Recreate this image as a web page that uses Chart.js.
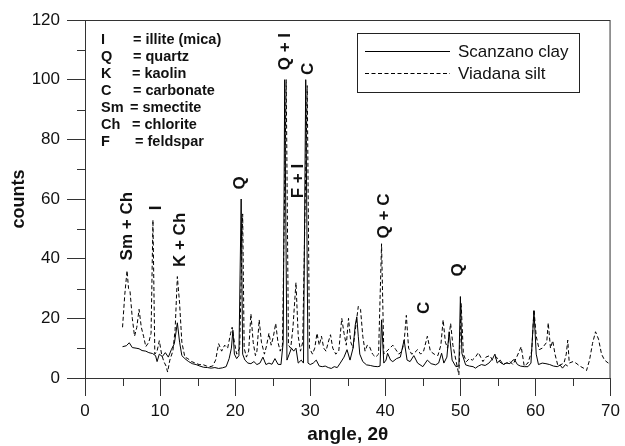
<!DOCTYPE html>
<html>
<head>
<meta charset="utf-8">
<script src="https://cdn.jsdelivr.net/npm/chart.js@4/dist/chart.umd.min.js"></script>
<style>
  html, body { margin: 0; padding: 0; background: #fff; }
  canvas { display: block; }
</style>
</head>
<body>
<canvas id="xrd" width="625" height="446"></canvas>
<script>
"use strict";

// Scanzano clay, solid line
var scanzanoAngle = [5.0, 5.5, 5.9, 6.3, 6.8, 7.2, 7.6, 8.1, 8.5, 9.0, 9.4, 9.6, 9.9, 10.3, 10.7, 11.1, 11.5, 11.9, 12.3, 12.6,
  12.9, 13.3, 13.8, 14.3, 14.8, 15.3, 15.8, 16.3, 16.8, 17.3, 17.8, 18.3, 18.8, 19.2, 19.5, 19.7, 19.9, 20.2, 20.5, 20.8,
  21.0, 21.3, 21.7, 22.1, 22.5, 22.9, 23.3, 23.7, 24.1, 24.5, 24.9, 25.3, 25.7, 26.1, 26.4, 26.6, 26.9, 27.2, 27.5, 27.8,
  28.1, 28.4, 28.8, 29.1, 29.4, 29.7, 30.0, 30.4, 30.8, 31.2, 31.6, 32.0, 32.4, 32.8, 33.2, 33.6, 34.0, 34.5, 34.9, 35.3,
  35.7, 36.0, 36.2, 36.4, 36.6, 37.0, 37.5, 38.0, 38.5, 39.0, 39.3, 39.5, 39.8, 40.1, 40.3, 40.7, 41.0, 41.5, 42.0, 42.5,
  42.9, 43.3, 43.8, 44.3, 45.0, 45.6, 46.1, 46.7, 47.1, 47.5, 47.8, 48.2, 48.5, 48.9, 49.4, 49.8, 50.0, 50.2, 50.7, 51.2,
  51.7, 52.0, 52.4, 52.8, 53.3, 53.8, 54.3, 54.6, 54.9, 55.3, 55.7, 56.1, 56.6, 57.0, 57.2, 57.6, 58.0, 58.5, 59.0, 59.4,
  59.8, 60.1, 60.4, 60.9, 61.4, 61.9, 62.4, 62.9, 63.3, 63.6, 64.0, 64.3];
var scanzanoCounts = [10.5, 10.8, 11.8, 10.2, 10.0, 9.8, 9.2, 9.0, 8.5, 8.2, 7.5, 5.5, 8.0, 7.2, 8.5, 7.0, 9.5, 11.5, 18.5, 12.0,
  7.5, 6.5, 5.5, 4.8, 4.5, 4.0, 3.6, 3.5, 3.3, 3.5, 3.2, 3.4, 3.8, 6.5, 10, 16, 8, 6.5, 7.5, 60,
  8, 6, 5, 4.8, 5.5, 4.5, 5, 7, 4.5, 5, 4.6, 6.5, 4.6, 4.5, 12, 100, 6, 8, 10, 9,
  10, 5, 6, 5, 100, 5, 4.5, 5, 6, 4, 3.8, 4, 3.5, 3.2, 3.8, 3.5, 5, 7, 9.5, 6,
  10, 17.8, 20.5, 14, 8, 5.5, 4.4, 4.2, 3.9, 3.8, 4, 19.5, 5, 6, 8.3, 6, 5.5, 6.5, 7, 12.7,
  6, 5.5, 7.5, 5, 3.8, 6, 4.8, 4.4, 5, 8.3, 5, 7, 15.5, 6, 3.8, 4, 27.3, 8.3, 4.4, 4,
  3.8, 3.3, 4, 4.5, 4.2, 5, 6.5, 8, 5, 6, 4.5, 5, 4.8, 6, 6.2, 4.5, 4, 3.8, 3.8, 5,
  22.5, 8, 4.5, 5, 4.8, 4.5, 4, 3.8, 4.3, 3.3, 4.5, 4];

// Viadana silt, dashed line
var viadanaAngle = [5.0, 5.3, 5.6, 5.8, 6.0, 6.3, 6.6, 6.9, 7.2, 7.5, 7.8, 8.1, 8.5, 8.8, 9.05, 9.3, 9.6, 9.9, 10.2, 10.5,
  10.8, 11.0, 11.3, 11.7, 12.0, 12.3, 12.6, 12.9, 13.3, 13.7, 14.2, 14.7, 15.2, 15.7, 16.2, 16.6, 17.0, 17.4, 17.8, 18.2,
  18.6, 19.0, 19.4, 19.6, 19.9, 20.2, 20.6, 21.0, 21.2, 21.5, 21.8, 22.1, 22.4, 22.7, 22.9, 23.2, 23.5, 23.9, 24.2, 24.5,
  24.8, 25.1, 25.4, 25.7, 26.0, 26.3, 26.8, 27.1, 27.4, 27.7, 28.1, 28.4, 28.7, 29.0, 29.6, 29.9, 30.3, 30.6, 30.9, 31.2,
  31.5, 31.8, 32.1, 32.4, 32.7, 33.0, 33.4, 33.8, 34.2, 34.5, 34.8, 35.1, 35.4, 35.7, 36.0, 36.4, 36.7, 37.0, 37.3, 37.6,
  37.9, 38.3, 38.7, 39.1, 39.5, 39.8, 40.2, 40.6, 41.0, 41.4, 41.8, 42.2, 42.5, 42.8, 43.1, 43.5, 43.9, 44.3, 44.7, 45.1,
  45.6, 46.0, 46.5, 47.0, 47.4, 47.7, 48.0, 48.3, 48.7, 49.0, 49.4, 49.8, 50.1, 50.4, 50.8, 51.2, 51.6, 52.0, 52.4, 52.7,
  53.0, 53.4, 53.9, 54.3, 54.8, 55.2, 55.7, 56.1, 56.6, 57.0, 57.5, 58.1, 58.5, 59.0, 59.5, 59.8, 60.1, 60.5, 60.9, 61.2,
  61.5, 61.7, 62.0, 62.3, 62.6, 63.0, 63.4, 63.8, 64.1, 64.3, 64.5, 65.0, 65.4, 65.9, 66.4, 66.8, 67.2, 67.6, 68.0, 68.4,
  68.8, 69.2, 69.7, 70.0];
var viadanaCounts = [17, 28, 36, 30, 29, 20, 14, 17, 23, 17, 14, 10.5, 12, 15, 53, 8, 9, 12.5, 8, 5.5,
  4, 2, 6, 9, 16, 34, 25, 12, 7, 6.5, 5.5, 5, 4.5, 4.5, 4, 3.8, 4, 6, 11.5, 9,
  11, 10, 15, 17, 12, 8, 10, 55, 10, 7, 9, 21.5, 12, 7.5, 9, 19.5, 12, 8, 11, 15,
  11, 14, 18.3, 12, 9, 11, 100, 11, 10, 17, 32, 14, 9, 12, 98, 10, 8, 10, 15, 11,
  14, 10, 9, 12, 14.5, 10, 8, 9, 20, 15, 11, 20, 12, 10, 16, 24, 23, 14, 9, 11,
  10.5, 8, 7, 8, 45, 8, 9, 10, 11, 9.5, 8, 9, 12, 21, 10, 8, 8.5, 9.5, 8, 9,
  14, 9, 8, 7.5, 11, 19.5, 12, 10, 18.3, 11, 6, 1, 25, 8, 5.5, 6.5, 6, 7, 8.5, 7,
  5.5, 7, 7.5, 6, 7, 5.5, 4.5, 5, 5.5, 4.5, 7, 10.5, 4, 5, 9, 23, 14, 9.5, 10, 11,
  12, 18.5, 10, 12.5, 8, 4, 4.5, 5, 8, 12.7, 5, 5.5, 5, 4, 3.3, 2.5, 6, 11.6, 15.5, 13,
  8, 6, 5, 5.5];

var seriesNames = ["Scanzano clay", "Viadana silt"];

// mineral key, top left
var keySymbols = ["I", "Q", "K", "C", "Sm", "Ch", "F"];
var keyMinerals = ["= illite (mica)", "= quartz", "= kaolin", "= carbonate", "= smectite", "= chlorite", "= feldspar"];

// peak labels, placed at angle / counts
var peakText = ["Sm + Ch", "I", "K + Ch", "Q", "Q + I", "C", "F + I", "Q + C", "C", "Q"];
var peakAngle = [5.5, 9.4, 12.5, 20.6, 26.5, 29.6, 28.3, 39.7, 45.1, 49.6];
var peakCounts = [50.9, 57, 46.3, 65.4, 109.4, 103.6, 66, 54.3, 23.5, 36.2];

var axisColor = "#333";
var fontFamily = "'Liberation Sans', Arial, sans-serif";

function toPoints(xs, ys) {
  return xs.map((a, i) => ({ x: a, y: ys[i] }));
}

// box, minor ticks, legend, key and peak labels
var extrasPlugin = {
  id: "extras",
  afterDraw(chart) {
    var ctx = chart.ctx;
    var area = chart.chartArea;
    var xs = chart.scales.x;
    var ys = chart.scales.y;
    ctx.save();
    ctx.strokeStyle = axisColor;
    ctx.lineWidth = 1;
    ctx.strokeRect(area.left + 0.5, area.top + 0.5, area.right - area.left - 1, area.bottom - area.top);

    // minor ticks
    ctx.beginPath();
    for (var v = 5; v < 70; v += 10) {
      var px = Math.round(xs.getPixelForValue(v)) + 0.5;
      ctx.moveTo(px, area.bottom);
      ctx.lineTo(px, area.bottom + 8);
    }
    for (var w = 10; w < 120; w += 20) {
      var py = Math.round(ys.getPixelForValue(w)) + 0.5;
      ctx.moveTo(area.left, py);
      ctx.lineTo(area.left - 8, py);
    }
    ctx.stroke();

    // legend box
    var lx = area.left + 272, ly = area.top + 13;
    ctx.strokeStyle = "#222";
    ctx.strokeRect(lx + 0.5, ly + 0.5, 222, 59);
    ctx.strokeStyle = "#000";
    ctx.beginPath();
    ctx.moveTo(lx + 8, ly + 18.5);
    ctx.lineTo(lx + 93, ly + 18.5);
    ctx.stroke();
    ctx.setLineDash([4, 2.5]);
    ctx.beginPath();
    ctx.moveTo(lx + 8, ly + 40.5);
    ctx.lineTo(lx + 93, ly + 40.5);
    ctx.stroke();
    ctx.setLineDash([]);
    ctx.fillStyle = "#111";
    ctx.font = "17px " + fontFamily;
    ctx.textBaseline = "middle";
    ctx.textAlign = "left";
    ctx.fillText(seriesNames[0], lx + 101, ly + 19);
    ctx.fillText(seriesNames[1], lx + 101, ly + 41);

    // mineral key
    ctx.font = "bold 14.5px " + fontFamily;
    var eqOffset = [32, 32, 31, 32, 29, 31, 34];
    for (var i = 0; i < keySymbols.length; i++) {
      var ky = area.top + 19.5 + i * 17.1;
      ctx.fillText(keySymbols[i], area.left + 16, ky);
      ctx.fillText(keyMinerals[i], area.left + 16 + eqOffset[i], ky);
    }

    // peak labels, rotated
    ctx.font = "bold 17px " + fontFamily;
    ctx.textAlign = "center";
    for (var k = 0; k < peakText.length; k++) {
      ctx.save();
      ctx.translate(xs.getPixelForValue(peakAngle[k]), ys.getPixelForValue(peakCounts[k]));
      ctx.rotate(-Math.PI / 2);
      ctx.fillText(peakText[k], 0, 1);
      ctx.restore();
    }
    ctx.restore();
  },
};

var ctx = document.getElementById("xrd").getContext("2d");

new Chart(ctx, {
  type: "line",
  data: {
    datasets: [
      {
        label: seriesNames[0],
        data: toPoints(scanzanoAngle, scanzanoCounts),
        borderColor: "#000",
        borderWidth: 1,
        pointRadius: 0,
        tension: 0,
      },
      {
        label: seriesNames[1],
        data: toPoints(viadanaAngle, viadanaCounts),
        borderColor: "#000",
        borderWidth: 1,
        borderDash: [4, 2.5],
        pointRadius: 0,
        tension: 0,
      },
    ],
  },
  options: {
    responsive: false,
    animation: false,
    events: [],
    layout: { padding: { top: 20, right: 8, left: 0, bottom: 0 } },
    plugins: { legend: { display: false }, tooltip: { enabled: false } },
    scales: {
      x: {
        type: "linear",
        min: 0,
        max: 70,
        afterFit: (scale) => { scale.height = 68; },
        ticks: { stepSize: 10, color: "#111", padding: 5, font: { family: fontFamily, size: 17 }, maxRotation: 0 },
        grid: { drawOnChartArea: false, tickLength: 18, tickColor: axisColor },
        border: { color: axisColor },
        title: {
          display: true,
          text: "angle, 2θ",
          color: "#111",
          font: { family: fontFamily, size: 19, weight: "bold" },
          padding: { top: 0, bottom: 0 },
        },
      },
      y: {
        min: 0,
        max: 120,
        afterFit: (scale) => { scale.width = 85; },
        ticks: { stepSize: 20, color: "#111", padding: 7, font: { family: fontFamily, size: 17 } },
        grid: { drawOnChartArea: false, tickLength: 18, tickColor: axisColor },
        border: { color: axisColor },
        title: {
          display: true,
          text: "counts",
          color: "#111",
          font: { family: fontFamily, size: 18, weight: "bold" },
          padding: { top: 8, bottom: 0 },
        },
      },
    },
  },
  plugins: [extrasPlugin],
});
</script>
</body>
</html>
